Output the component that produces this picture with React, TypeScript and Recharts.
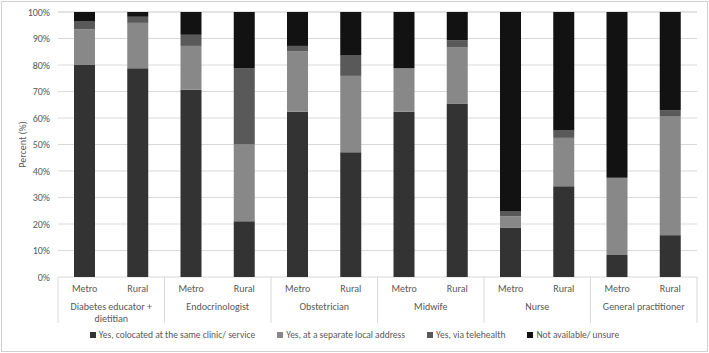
import React from 'react';
import { BarChart, Bar, XAxis, YAxis, CartesianGrid } from 'recharts';

const groups = [
  'Diabetes educator + dietitian',
  'Endocrinologist',
  'Obstetrician',
  'Midwife',
  'Nurse',
  'General practitioner',
];
const areas = ['Metro', 'Rural'];

// percent of respondents, one value per group/area bar (Metro, Rural, ...)
const colocated = [80.2, 78.8, 70.7, 21.0, 62.4, 47.1, 62.4, 65.5, 18.7, 34.2, 8.3, 15.8];
const separate = [13.3, 17.1, 16.5, 29.0, 22.7, 28.8, 16.4, 21.1, 4.2, 18.3, 29.2, 44.7];
const telehealth = [3.1, 2.3, 4.2, 28.7, 2.1, 7.9, 0, 2.7, 2.0, 2.8, 0, 2.5];
const notAvailable = [3.4, 1.8, 8.6, 21.3, 12.8, 16.2, 21.2, 10.7, 75.1, 44.7, 62.5, 37.0];

const yTicks = [0, 10, 20, 30, 40, 50, 60, 70, 80, 90, 100];

const series = [
  { key: 'colocated', name: 'Yes, colocated at the same clinic/ service', color: '#333333' },
  { key: 'separate', name: 'Yes, at a separate local address', color: '#888888' },
  { key: 'telehealth', name: 'Yes, via telehealth', color: '#595959' },
  { key: 'notAvailable', name: 'Not available/ unsure', color: '#121212' },
];

const data = groups.flatMap((group, g) =>
  areas.map((area, a) => {
    const i = g * 2 + a;
    return {
      group,
      area,
      colocated: colocated[i],
      separate: separate[i],
      telehealth: telehealth[i],
      notAvailable: notAvailable[i],
    };
  }),
);

const FONT = 'Carlito, Calibri, Lato, sans-serif';
const TEXT = '#595959';
const W = 709;
const H = 353;
const LEFT = 58;
const RIGHT = 12;
const BAND = (W - LEFT - RIGHT) / data.length;

const wrap = (label: string, max = 20) => {
  const lines: string[] = [];
  let cur = '';
  label.split(' ').forEach((w) => {
    const next = cur ? `${cur} ${w}` : w;
    if (next.length > max && cur) {
      lines.push(cur);
      cur = w;
    } else cur = next;
  });
  if (cur) lines.push(cur);
  return lines;
};

const AreaTick = (props: any) => {
  const { x, y, payload, index } = props;
  const row = data[index];
  const first = index % 2 === 0;
  const last = index === data.length - 1;
  return (
    <g>
      <text x={x} y={y + 15} textAnchor="middle" fill={TEXT} fontSize={10} fontFamily={FONT}>
        {payload.value}
      </text>
      {first && (
        <>
          <line x1={x - BAND / 2} x2={x - BAND / 2} y1={y} y2={y + 46} stroke="#d9d9d9" />
          <text x={x + BAND / 2} y={y + 33} textAnchor="middle" fill={TEXT} fontSize={10} fontFamily={FONT}>
            {wrap(row.group).map((l, k) => (
              <tspan key={k} x={x + BAND / 2} dy={k === 0 ? 0 : 11.5}>
                {l}
              </tspan>
            ))}
          </text>
        </>
      )}
      {last && <line x1={x + BAND / 2} x2={x + BAND / 2} y1={y} y2={y + 46} stroke="#d9d9d9" />}
    </g>
  );
};

const YLabel = (props: any) => {
  const { viewBox } = props;
  const cy = viewBox.y + viewBox.height / 2;
  return (
    <text
      x={22}
      y={cy}
      transform={`rotate(-90, 22, ${cy})`}
      textAnchor="middle"
      dominantBaseline="central"
      fill={TEXT}
      fontSize={10}
      fontFamily={FONT}
    >
      Percent (%)
    </text>
  );
};

export default function App() {
  return (
    <div style={{ position: 'absolute', left: 0, top: 0, width: W, height: H, background: '#fff' }}>
      <BarChart
        width={W}
        height={H}
        data={data}
        margin={{ top: 12, right: RIGHT, left: 0, bottom: 20 }}
      >
        <CartesianGrid vertical={false} stroke="#d9d9d9" />
        <XAxis
          dataKey="area"
          interval={0}
          height={56}
          axisLine={false}
          tickLine={false}
          tickSize={0}
          tickMargin={0}
          tick={<AreaTick />}
        />
        <YAxis
          width={LEFT}
          domain={[0, 100]}
          ticks={yTicks}
          tickFormatter={(v) => `${v}%`}
          axisLine={false}
          tickLine={false}
          tick={{ fill: TEXT, fontSize: 10, fontFamily: FONT }}
          label={<YLabel />}
        />
        {series.map((s) => (
          <Bar
            key={s.key}
            dataKey={s.key}
            name={s.name}
            stackId="a"
            fill={s.color}
            barSize={21}
            isAnimationActive={false}
          />
        ))}
      </BarChart>
      <div
        style={{
          position: 'absolute',
          left: 0,
          top: 329,
          width: W,
          display: 'flex',
          justifyContent: 'center',
          gap: 22,
          fontFamily: FONT,
          fontSize: 9.5,
          color: TEXT,
        }}
      >
        {series.map((s) => (
          <span key={s.key} style={{ display: 'flex', alignItems: 'center' }}>
            <span style={{ width: 6, height: 6, background: s.color, marginRight: 3 }} />
            {s.name}
          </span>
        ))}
      </div>
      <div
        style={{
          position: 'absolute',
          left: 1,
          top: 1,
          width: W - 4,
          height: H - 4,
          border: '1px solid #d0d0d0',
          pointerEvents: 'none',
        }}
      />
    </div>
  );
}
